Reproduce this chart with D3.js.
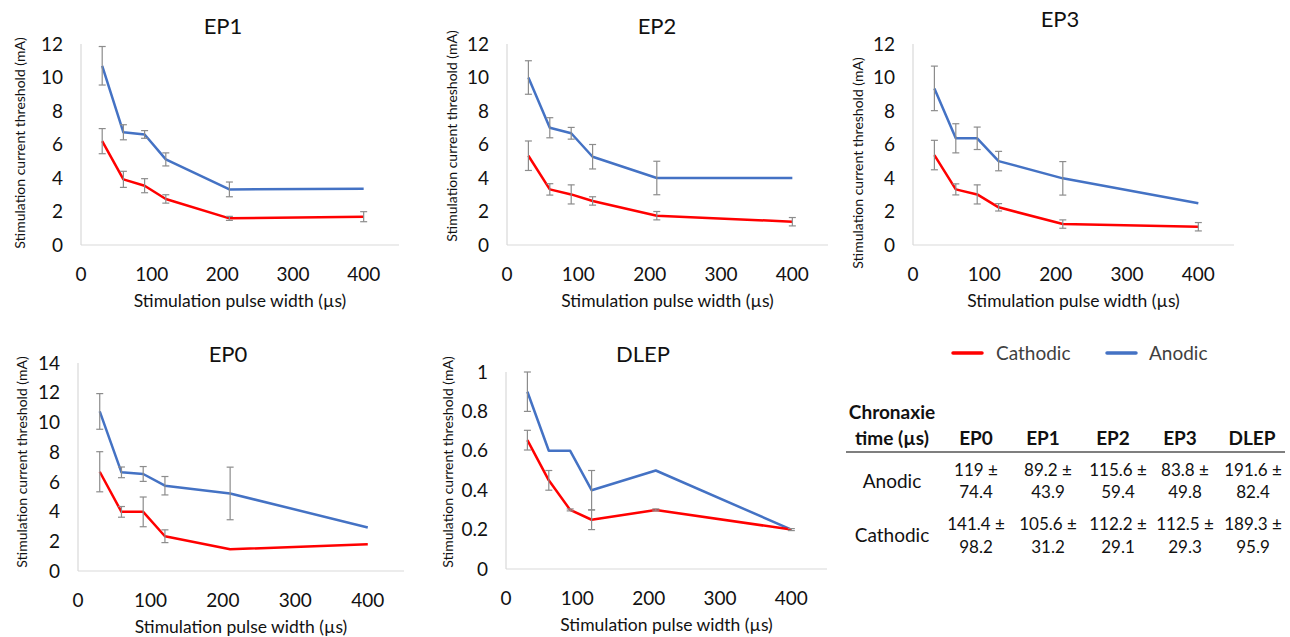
<!DOCTYPE html>
<html><head><meta charset="utf-8">
<script src="https://cdn.jsdelivr.net/npm/d3@7"></script>
<style>body{margin:0;background:#fff} text{font-family:Lato, "Open Sans", sans-serif; fill:#111}</style>
</head><body><svg id="c" width="1290" height="637"></svg>
<script>
// ---------- data ----------
const pulseWidths = [30, 60, 90, 120, 210, 400];
const xTicks = [0, 100, 200, 300, 400];

const ep1Cathodic    = [6.2, 3.92, 3.54, 2.75, 1.59, 1.69];
const ep1CathodicErr = [0.75, 0.48, 0.42, 0.25, 0.12, 0.3];
const ep1Anodic      = [10.7, 6.73, 6.6, 5.11, 3.32, 3.36];
const ep1AnodicErr   = [1.15, 0.45, 0.23, 0.39, 0.44, 0];

const ep2Cathodic    = [5.33, 3.32, 3.02, 2.63, 1.75, 1.39];
const ep2CathodicErr = [0.88, 0.34, 0.57, 0.25, 0.25, 0.25];
const ep2Anodic      = [10.0, 7.0, 6.67, 5.27, 4.0, 4.0];
const ep2AnodicErr   = [1.0, 0.6, 0.35, 0.73, 1.0, 0];

const ep3Cathodic    = [5.37, 3.32, 3.02, 2.25, 1.25, 1.09];
const ep3CathodicErr = [0.88, 0.33, 0.57, 0.22, 0.25, 0.25];
const ep3Anodic      = [9.35, 6.37, 6.37, 5.01, 3.98, 2.49];
const ep3AnodicErr   = [1.33, 0.87, 0.67, 0.58, 1.0, 0];

const ep0Cathodic    = [6.68, 3.98, 3.98, 2.34, 1.46, 1.8];
const ep0CathodicErr = [1.35, 0.36, 1.0, 0.43, 0, 0];
const ep0Anodic      = [10.74, 6.64, 6.53, 5.74, 5.22, 2.93];
const ep0AnodicErr   = [1.2, 0.36, 0.5, 0.62, 1.77, 0];

const dlepCathodic    = [0.654, 0.45, 0.3, 0.25, 0.3, 0.2];
const dlepCathodicErr = [0.05, 0.05, 0.005, 0.05, 0.005, 0.005];
const dlepAnodic      = [0.9, 0.6, 0.6, 0.4, 0.5, 0.2];
const dlepAnodicErr   = [0.1, 0, 0, 0.1, 0, 0];

const yTicks12 = [0, 2, 4, 6, 8, 10, 12];
const yTicks14 = [0, 2, 4, 6, 8, 10, 12, 14];
const yTicks1  = [0, 0.2, 0.4, 0.6, 0.8, 1];

const seriesNames = ["Cathodic", "Anodic"];

const tableColumns = ["EP0", "EP1", "EP2", "EP3", "DLEP"];
const anodicMean   = ["119", "89.2", "115.6", "83.8", "191.6"];
const anodicSD     = ["74.4", "43.9", "59.4", "49.8", "82.4"];
const cathodicMean = ["141.4", "105.6", "112.2", "112.5", "189.3"];
const cathodicSD   = ["98.2", "31.2", "29.1", "29.3", "95.9"];

// ---------- layout ----------
const RED = "#FF0000", BLUE = "#4472C4", ERR = "#8c8c8c", AXIS = "#d9d9d9";
const panels = [
  {title:"EP1", cat:ep1Cathodic, catErr:ep1CathodicErr, an:ep1Anodic, anErr:ep1AnodicErr, yT:yTicks12,
   x0:81, x1:399, yTop:44, yBot:245, titleX:223, titleY:34, yTitleX:20, yTitleY:143},
  {title:"EP2", cat:ep2Cathodic, catErr:ep2CathodicErr, an:ep2Anodic, anErr:ep2AnodicErr, yT:yTicks12,
   x0:507, x1:828, yTop:44, yBot:245, titleX:657, titleY:34, yTitleX:452, yTitleY:136},
  {title:"EP3", cat:ep3Cathodic, catErr:ep3CathodicErr, an:ep3Anodic, anErr:ep3AnodicErr, yT:yTicks12,
   x0:913, x1:1234, yTop:44, yBot:245, titleX:1060, titleY:27, yTitleX:858, yTitleY:163},
  {title:"EP0", cat:ep0Cathodic, catErr:ep0CathodicErr, an:ep0Anodic, anErr:ep0AnodicErr, yT:yTicks14,
   x0:78, x1:404, yTop:363, yBot:571, titleX:228, titleY:362, yTitleX:22, yTitleY:462},
  {title:"DLEP", cat:dlepCathodic, catErr:dlepCathodicErr, an:dlepAnodic, anErr:dlepAnodicErr, yT:yTicks1,
   x0:506, x1:827, yTop:372, yBot:569, titleX:643, titleY:362, yTitleX:448, yTitleY:462}
];

const svg = d3.select("#c");

panels.forEach(p => {
  const g = svg.append("g");
  const yMax = p.yT[p.yT.length - 1];
  const x = d3.scaleLinear().domain([0, 450]).range([p.x0, p.x1]);
  const y = d3.scaleLinear().domain([0, yMax]).range([p.yBot, p.yTop]);

  g.append("line").attr("x1", p.x0).attr("x2", p.x1).attr("y1", p.yBot).attr("y2", p.yBot)
    .attr("stroke", AXIS).attr("stroke-width", 1.2);
  g.append("line").attr("x1", p.x0).attr("x2", p.x0).attr("y1", p.yTop).attr("y2", p.yBot)
    .attr("stroke", AXIS).attr("stroke-width", 1.2);

  g.selectAll(".yt").data(p.yT).enter().append("text")
    .attr("x", p.x0 - 18).attr("y", d => y(d)).attr("dy", "0.35em")
    .attr("text-anchor", "end").style("font-size", "19px").text(d => d);
  g.selectAll(".xt").data(xTicks).enter().append("text")
    .attr("x", d => x(d)).attr("y", p.yBot + 29).attr("dy", "0.35em")
    .attr("text-anchor", "middle").style("font-size", "19px").text(d => d);

  g.append("text").attr("x", p.titleX).attr("y", p.titleY).attr("text-anchor", "middle")
    .style("font-size", "22px").text(p.title);
  g.append("text").attr("x", (p.x0 + p.x1) / 2).attr("y", p.yBot + 56).attr("dy", "0.35em")
    .attr("text-anchor", "middle").style("font-size", "17.5px").text("Stimulation pulse width (\u00b5s)");
  g.append("text").attr("transform", `translate(${p.yTitleX},${p.yTitleY}) rotate(-90)`)
    .attr("dy", "0.35em").attr("text-anchor", "middle").style("font-size", "14px")
    .text("Stimulation current threshold (mA)");

  const line = d3.line().x(d => x(d[0])).y(d => y(d[1]));
  const series = [
    {vals:p.an, err:p.anErr, color:BLUE},
    {vals:p.cat, err:p.catErr, color:RED}
  ];
  series.forEach(s => {
    const pts = pulseWidths.map((w, i) => [w, s.vals[i], s.err[i]]);
    g.append("path").datum(pts).attr("d", line).attr("fill", "none")
      .attr("stroke", s.color).attr("stroke-width", 2.5).attr("stroke-linejoin", "round");
  });
  series.forEach(s => {
    const pts = pulseWidths.map((w, i) => [w, s.vals[i], s.err[i]]).filter(d => d[2] > 0);
    const eg = g.append("g").attr("stroke", ERR).attr("stroke-width", 1.2);
    pts.forEach(d => {
      const cx = x(d[0]), t = y(d[1] + d[2]), b = y(d[1] - d[2]);
      eg.append("line").attr("x1", cx).attr("x2", cx).attr("y1", t).attr("y2", b);
      eg.append("line").attr("x1", cx - 3.5).attr("x2", cx + 3.5).attr("y1", t).attr("y2", t);
      eg.append("line").attr("x1", cx - 3.5).attr("x2", cx + 3.5).attr("y1", b).attr("y2", b);
    });
  });
});

// ---------- legend ----------
const legend = svg.append("g");
const legendItems = [
  {name: seriesNames[0], color: RED, lx: 953, tx: 996},
  {name: seriesNames[1], color: BLUE, lx: 1107, tx: 1149}
];
legendItems.forEach(it => {
  legend.append("line").attr("x1", it.lx).attr("x2", it.lx + 29).attr("y1", 353).attr("y2", 353)
    .attr("stroke", it.color).attr("stroke-width", 3.5).attr("stroke-linecap", "round");
  legend.append("text").attr("x", it.tx).attr("y", 353).attr("dy", "0.35em")
    .style("font-size", "19px").style("fill", "#404040").text(it.name);
});

// ---------- table ----------
const tbl = svg.append("g");
const headCenters = [976, 1043, 1113, 1180, 1252];
const valCenters = [976, 1048, 1118, 1185, 1253];
tbl.append("text").attr("x", 892).attr("y", 419).attr("text-anchor", "middle")
  .style("font-size", "19px").style("font-weight", "bold").text("Chronaxie");
tbl.append("text").attr("x", 892).attr("y", 445).attr("text-anchor", "middle")
  .style("font-size", "19px").style("font-weight", "bold").text("time (\u00b5s)");
tableColumns.forEach((c, i) => {
  tbl.append("text").attr("x", headCenters[i]).attr("y", 445).attr("text-anchor", "middle")
    .style("font-size", "19px").style("font-weight", "bold").text(c);
});
tbl.append("line").attr("x1", 846).attr("x2", 1285).attr("y1", 452).attr("y2", 452)
  .attr("stroke", "#000").attr("stroke-width", 1.2);

const rows = [
  {name: "Anodic", mean: anodicMean, sd: anodicSD, y1: 470, y2: 492, ly: 481},
  {name: "Cathodic", mean: cathodicMean, sd: cathodicSD, y1: 524, y2: 547, ly: 535}
];
rows.forEach(r => {
  tbl.append("text").attr("x", 892).attr("y", r.ly).attr("dy", "0.35em").attr("text-anchor", "middle")
    .style("font-size", "19px").text(r.name);
  tableColumns.forEach((c, i) => {
    tbl.append("text").attr("x", valCenters[i]).attr("y", r.y1).attr("dy", "0.35em").attr("text-anchor", "middle")
      .style("font-size", "17px").text(r.mean[i] + " \u00b1");
    tbl.append("text").attr("x", valCenters[i]).attr("y", r.y2).attr("dy", "0.35em").attr("text-anchor", "middle")
      .style("font-size", "17px").text(r.sd[i]);
  });
});
</script></body></html>
